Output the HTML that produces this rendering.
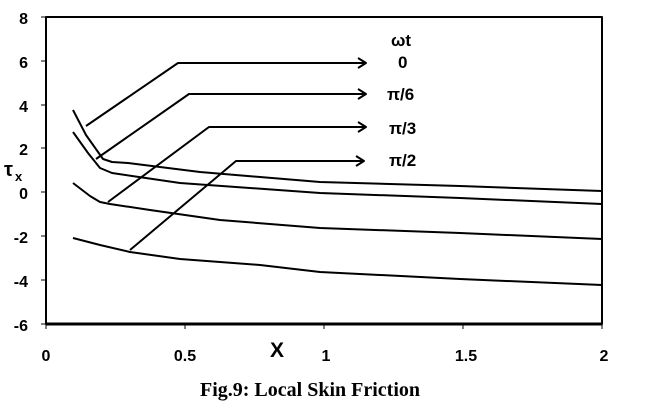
<!DOCTYPE html>
<html><head><meta charset="utf-8"><style>
html,body{margin:0;padding:0;background:#fff;width:651px;height:407px;overflow:hidden}
svg text{font-family:"Liberation Sans",sans-serif;font-weight:bold;fill:#000}
</style></head><body>
<svg width="651" height="407" viewBox="0 0 651 407" xmlns="http://www.w3.org/2000/svg">
<g fill="none" stroke="#000" stroke-linejoin="round">
<rect x="46" y="17" width="556" height="307" stroke-width="2"/>
<line x1="46" y1="324" x2="602" y2="324" stroke-width="3"/>
<g stroke-width="1">
<line x1="41" y1="17" x2="46" y2="17"/><line x1="41" y1="61" x2="46" y2="61"/><line x1="41" y1="105" x2="46" y2="105"/><line x1="41" y1="148" x2="46" y2="148"/><line x1="41" y1="192" x2="46" y2="192"/><line x1="41" y1="236" x2="46" y2="236"/><line x1="41" y1="280" x2="46" y2="280"/><line x1="41" y1="324" x2="46" y2="324"/>
<line x1="46" y1="324" x2="46" y2="329"/><line x1="185" y1="324" x2="185" y2="329"/><line x1="324" y1="324" x2="324" y2="329"/><line x1="463" y1="324" x2="463" y2="329"/><line x1="602" y1="324" x2="602" y2="329"/>
</g>
<g stroke-width="2">
<polyline points="73,110 86,135 103,159 112,162 128,163 200,172 320,182 460,186 602,191"/>
<polyline points="73,132 88,153 100,168 112,173 180,183 320,193 460,198 602,204"/>
<polyline points="73,183 90,196 100,202 110,204 150,210 220,220 320,228 460,233 602,239"/>
<polyline points="73,238 100,245 130,252 180,259 260,265 320,272 460,279 602,285"/>
<polyline points="86,126 178,63 366,63"/><polyline points="358,58 366,63 358,68"/>
<polyline points="96,159 189,94 366,94"/><polyline points="358,89 366,94 358,99"/>
<polyline points="108,202 209,127 366,127"/><polyline points="358,122 366,127 358,132"/>
<polyline points="130,250 236,161 364,161"/><polyline points="356,156 364,161 356,166"/>
</g>
</g>
<g font-size="16" text-anchor="end">
<text x="28" y="24">8</text><text x="28" y="68">6</text><text x="28" y="112">4</text><text x="28" y="155">2</text><text x="28" y="199">0</text><text x="28" y="243">-2</text><text x="28" y="287">-4</text><text x="28" y="331">-6</text>
</g>
<g font-size="16" text-anchor="middle">
<text x="46" y="361">0</text><text x="185" y="361">0.5</text><text x="326" y="361">1</text><text x="466" y="361">1.5</text><text x="604" y="361">2</text>
</g>
<text x="270" y="357" font-size="21">X</text>
<text x="4" y="176" font-size="20">τ</text>
<text x="15" y="181" font-size="13">x</text>
<g font-size="17">
<text x="391" y="46">ωt</text><text x="398" y="68">0</text><text x="387" y="100">π/6</text><text x="389" y="134">π/3</text><text x="389" y="166">π/2</text>
</g>
<text x="310" y="396" font-size="20" text-anchor="middle" style="font-family:'Liberation Serif',serif">Fig.9: Local Skin Friction</text>
</svg>
</body></html>
